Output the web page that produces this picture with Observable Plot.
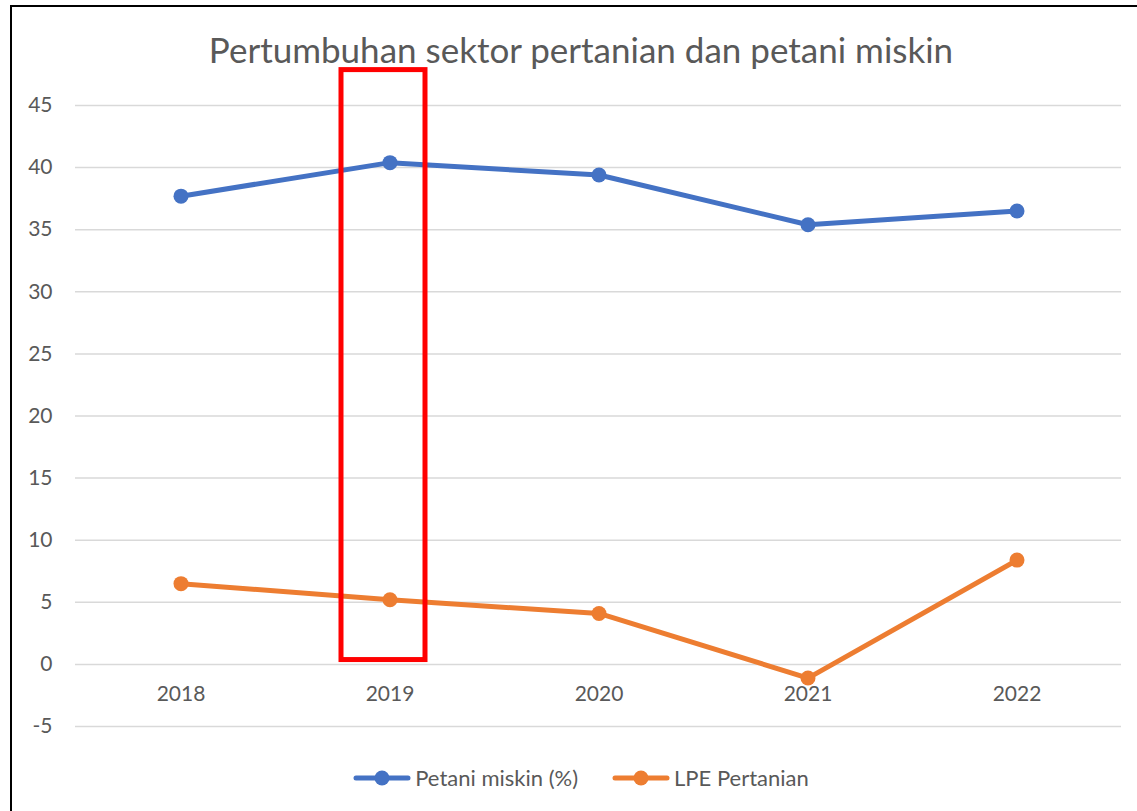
<!DOCTYPE html>
<html>
<head>
<meta charset="utf-8">
<script src="https://cdn.jsdelivr.net/npm/d3@7"></script>
<script src="https://cdn.jsdelivr.net/npm/@observablehq/plot@0.6"></script>
<style>
  html, body { margin: 0; padding: 0; background: #fff; }
  #wrap { position: relative; width: 1137px; height: 811px; overflow: hidden; font-family: Lato, "Open Sans", sans-serif; color: #595959; }
  #frame { position: absolute; left: 10px; top: 5px; width: 1300px; height: 1000px; border-left: 2px solid #000; border-top: 2px solid #000; box-sizing: border-box; }
  #title { position: absolute; left: 10px; width: 1142px; top: 29px; text-align: center; font-size: 35px; line-height: 40px; white-space: nowrap; }
  #chart { position: absolute; left: 0; top: 0; }
  #legend { position: absolute; left: 10px; width: 1142px; top: 764px; display: flex; justify-content: center; align-items: center; font-size: 22px; }
  .item { display: flex; align-items: center; margin: 0 17px; }
  .item svg { margin-right: 4px; }
</style>
</head>
<body>
<div id="wrap">
  <div id="frame"></div>
  <div id="chart"></div>
  <div id="title"></div>
  <div id="legend"></div>
</div>
<script>
const titleText = "Pertumbuhan sektor pertanian dan petani miskin";
const years = ["2018", "2019", "2020", "2021", "2022"];
const petaniMiskin = [37.7, 40.4, 39.4, 35.4, 36.5];
const lpePertanian = [6.5, 5.2, 4.1, -1.1, 8.4];
const seriesNames = ["Petani miskin (%)", "LPE Pertanian"];
const seriesColors = ["#4472C4", "#ED7D31"];
const yTicks = [-5, 0, 5, 10, 15, 20, 25, 30, 35, 40, 45];
const highlightYear = "2019";
const highlightRange = [0.35, 47.85];

const seriesValues = [petaniMiskin, lpePertanian];
const data = [];
seriesNames.forEach((s, i) => years.forEach((y, j) => data.push({series: s, year: y, value: seriesValues[i][j]})));

document.getElementById("title").textContent = titleText;

const chart = Plot.plot({
  width: 1137,
  height: 760,
  marginTop: 105,
  marginBottom: 34,
  marginLeft: 75,
  marginRight: 16,
  style: { fontFamily: "Lato, 'Open Sans', sans-serif", fontSize: "21px", color: "#595959", background: "transparent", overflow: "visible" },
  x: { type: "band", domain: years, padding: 0, axis: null },
  y: { domain: [-5, 45], axis: null },
  color: { domain: seriesNames, range: seriesColors },
  marks: [
    Plot.gridY(yTicks, { stroke: "#D9D9D9", strokeOpacity: 1, strokeWidth: 1.5 }),
    Plot.axisY({ ticks: yTicks, tickSize: 0, tickPadding: 23, tickFormat: d => String(d), fill: "#595959", fontSize: 21 }),
    Plot.text(years, { x: d => d, y: () => 0, dy: 30, fill: "#595959", fontSize: 21 }),
    Plot.line(data, { x: "year", y: "value", z: "series", stroke: "series", strokeWidth: 5, strokeLinejoin: "round", strokeLinecap: "round" }),
    Plot.dot(data, { x: "year", y: "value", fill: "series", r: 7.5 }),
    Plot.barY([{ year: highlightYear, y1: highlightRange[0], y2: highlightRange[1] }],
      { x: "year", y1: "y1", y2: "y2", fill: "none", stroke: "#FF0000", strokeWidth: 5, insetLeft: 56, insetRight: 69 })
  ]
});
document.getElementById("chart").appendChild(chart);

const legend = document.getElementById("legend");
seriesNames.forEach((name, i) => {
  const item = document.createElement("div");
  item.className = "item";
  const sw = d3.create("svg").attr("width", 58).attr("height", 20);
  sw.append("line").attr("x1", 3).attr("x2", 55).attr("y1", 10).attr("y2", 10)
    .attr("stroke", seriesColors[i]).attr("stroke-width", 5).attr("stroke-linecap", "round");
  sw.append("circle").attr("cx", 29).attr("cy", 10).attr("r", 7.5).attr("fill", seriesColors[i]);
  item.appendChild(sw.node());
  const label = document.createElement("span");
  label.textContent = name;
  item.appendChild(label);
  legend.appendChild(item);
});
</script>
</body>
</html>
